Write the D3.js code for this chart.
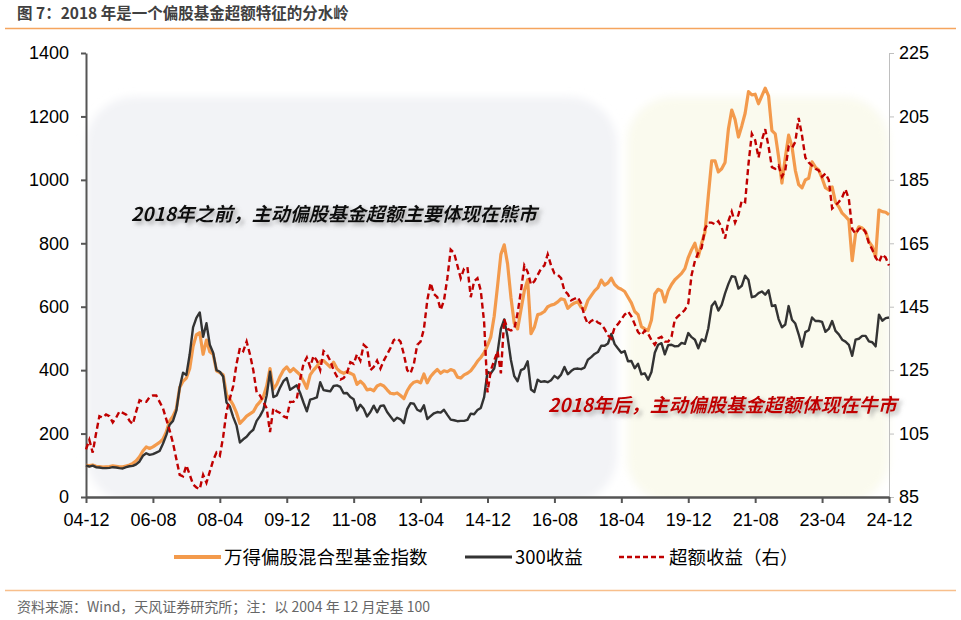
<!DOCTYPE html>
<html><head><meta charset="utf-8">
<script src="https://cdn.jsdelivr.net/npm/d3@7"></script>
<style>body{margin:0;background:#fff;} svg{display:block;}</style>
</head><body><svg id="c" width="961" height="620"></svg>
<script>
// ---- data (monthly, 2004-12 .. 2024-12) ----
const xTickLabels = ["04-12","06-08","08-04","09-12","11-08","13-04","14-12","16-08","18-04","19-12","21-08","23-04","24-12"];
const leftTicks = [0,200,400,600,800,1000,1200,1400];
const rightTicks = [85,105,125,145,165,185,205,225];
const seriesNames = ["万得偏股混合型基金指数","300收益","超额收益（右）"];

const fundIndex = [
100,99,101,97,96,94,95,96,98,97,95,95,
98,101,106,114,127,145,158,153,158,165,172,182,
205,240,255,278,345,365,375,405,475,512,518,450,
495,458,450,398,392,385,322,308,290,265,232,243,
255,262,269,288,300,316,350,405,340,355,380,400,
410,395,405,395,385,365,343,385,400,412,428,430,
420,410,425,405,395,390,395,390,385,355,365,355,
338,340,335,350,355,350,338,327,325,328,320,310,
335,352,362,365,360,388,360,380,392,402,390,398,
395,402,398,378,375,385,390,398,412,428,440,455,
478,505,570,665,765,795,735,630,548,530,590,650,
685,515,535,575,578,585,600,605,608,615,625,622,
595,605,612,616,598,590,620,635,650,660,684,668,
675,690,670,660,655,648,630,612,585,575,537,530,
525,558,640,655,650,615,650,670,685,695,705,720,
755,780,800,758,800,835,950,1060,1060,1025,1035,1055,
1160,1220,1190,1135,1170,1210,1278,1268,1270,1240,1265,1289,
1265,1155,1145,1073,990,1070,1141,1105,1030,985,975,1000,
1005,1057,1040,1031,1005,975,968,978,930,915,895,885,
873,745,830,852,848,837,805,790,758,905,900,898,
890];

const csi300 = [
100,96,99,94,93,91,91,92,94,93,91,90,
94,97,98,103,112,130,138,133,135,140,145,168,
195,228,240,272,345,392,385,450,535,565,582,505,
548,480,455,400,395,380,298,285,252,225,172,182,
190,203,212,240,255,275,320,395,315,320,345,365,
375,338,345,352,328,298,270,307,310,314,362,337,
335,333,350,352,347,327,328,315,308,273,291,278,
254,268,288,267,287,289,268,254,240,250,245,233,
277,296,294,275,270,289,246,255,264,268,266,275,
259,244,242,239,240,240,243,263,261,274,281,315,
395,390,405,455,530,560,505,432,381,365,400,405,
428,339,331,370,363,365,362,368,382,374,386,410,
387,397,404,405,403,408,433,441,451,457,477,477,
484,514,482,468,455,460,428,429,406,420,387,390,
370,394,455,480,485,450,479,480,475,476,486,483,
517,504,496,469,497,491,532,602,616,588,606,642,
672,696,694,657,666,698,684,630,633,643,648,638,
652,602,605,561,535,544,602,559,547,513,474,520,
526,566,555,555,552,521,530,555,524,513,496,490,
480,445,496,499,508,508,491,488,475,575,556,564,
566];

const excess = [
100,103,99,105,110.5,110,111,110.5,108.5,110,112,111.5,
111,109,108,112,115.5,115,115,116.5,117,117,115,113,
109.5,106,102,97,92,91.5,95,92,89,88,87.5,92,
89.5,93,96.5,99,98,104,112,116,120,127,132,131,
134,130,125,118,117,115,113,105.5,113,112,111.5,110.5,
110,115,115,116,122,127,129,126,129.5,128,125,131,
130,128,125,123,122,122.5,124,127.5,127,130,128,133,
132,125,126,128,125.5,128,130,132,134.5,135,134,130,
125,124,127,133,134,138,147,152.5,149,148,144,147,
154,163,162,158,154,157,157.5,148,153,154,150,140,
118,125,128,131,124,141,138,137.5,138,143,150,158,
156,152,153,155,157,158,161.5,158,155.5,155,154,150,
149,147,147.5,148,146,142,139.5,140.5,141,140,139.5,138,
136,135,138.5,139.5,141,142.5,143.5,142,139.5,137,136,137.5,
136.5,134.5,133,135,135.5,134,134,135.5,141,142,143,144,
146,155,159.5,162,163.5,169.5,171.5,171.5,171,172,170,166.5,
172,175,171.5,174,178.5,178,190,199.5,197.5,192,197.5,201,
195.5,189,188.5,189.5,186,188,195.5,195,197,204.5,199,192,
190.5,189.5,188.5,188,186,187,185,176,177,178,179.5,182,
179,169.5,168,169.5,170,168.5,165,163,160.5,159,161.5,160.5,
158];

// ---- drawing ----
const FONT = "'Liberation Sans','Noto Sans CJK SC',Arial,sans-serif";
const CJK = "'Noto Sans CJK SC','Liberation Sans',sans-serif";
const C_OR = "#f39a4c", C_BK = "#333333", C_RD = "#c00000";
const svg = d3.select("#c");
const L = 86, R = 889, T = 53, B = 497;

const x = d3.scaleLinear().domain([0, fundIndex.length - 1]).range([L, R]);
const yL = d3.scaleLinear().domain([0, 1400]).range([B, T]);
const yR = d3.scaleLinear().domain([85, 225]).range([B, T]);

const defs = svg.append("defs");
const blur = defs.append("filter").attr("id","soft").attr("x","-10%").attr("y","-10%").attr("width","120%").attr("height","120%");
blur.append("feGaussianBlur").attr("stdDeviation", 4);
const sh = defs.append("filter").attr("id","shadow").attr("x","-5%").attr("y","-30%").attr("width","115%").attr("height","180%");
sh.append("feDropShadow").attr("dx",3).attr("dy",3).attr("stdDeviation",2.2).attr("flood-color","#777").attr("flood-opacity",0.6);
defs.append("clipPath").attr("id","plotclip").append("rect").attr("x",0).attr("y",0).attr("width",961).attr("height",B);

// title
svg.append("text").attr("x",17).attr("y",19).attr("font-family",CJK).attr("font-weight","bold")
  .attr("font-size",15.5).attr("fill","#404040").text("图 7：2018 年是一个偏股基金超额特征的分水岭");
svg.append("line").attr("x1",5).attr("x2",956).attr("y1",28.5).attr("y2",28.5).attr("stroke","#f5a55e").attr("stroke-width",1.5);

// background regions
const bg = svg.append("g").attr("clip-path","url(#plotclip)");
bg.append("rect").attr("x",86).attr("y",97).attr("width",531).attr("height",406).attr("rx",48)
  .attr("fill","#f2f3f6").attr("filter","url(#soft)");
bg.append("rect").attr("x",627).attr("y",97).attr("width",262).attr("height",406).attr("rx",45)
  .attr("fill","#fafaee").attr("filter","url(#soft)");

// axes
const axL = svg.append("g").attr("transform",`translate(${L},0)`)
  .call(d3.axisLeft(yL).tickValues(leftTicks).tickFormat(d3.format("d")).tickSize(5).tickSizeOuter(0).tickPadding(12));
axL.select(".domain").attr("stroke","#555").attr("stroke-width",2);
axL.selectAll(".tick line").attr("stroke","#555").attr("stroke-width",2);
axL.selectAll("text").attr("font-family",FONT).attr("font-size",18).attr("fill","#000");

const axR = svg.append("g").attr("transform",`translate(${R},0)`)
  .call(d3.axisRight(yR).tickValues(rightTicks).tickFormat(d3.format("d")).tickSize(5).tickSizeOuter(0).tickPadding(5));
axR.select(".domain").attr("stroke","#bfbfbf").attr("stroke-width",1);
axR.selectAll(".tick line").attr("stroke","#bfbfbf");
axR.selectAll("text").attr("font-family",FONT).attr("font-size",18).attr("fill","#000");

const axB = svg.append("g").attr("transform",`translate(0,${B})`)
  .call(d3.axisBottom(x).tickValues(xTickLabels.map((d,i)=>i*20)).tickFormat((d,i)=>xTickLabels[i])
    .tickSize(6).tickSizeOuter(0).tickPadding(10));
axB.select(".domain").attr("stroke","#555").attr("stroke-width",2.5);
axB.selectAll(".tick line").attr("stroke","#555").attr("stroke-width",2);
axB.selectAll("text").attr("font-family",FONT).attr("font-size",18).attr("fill","#000");

// lines
const lineL = d3.line().x((d,i)=>x(i)).y(d=>yL(d));
const lineR = d3.line().x((d,i)=>x(i)).y(d=>yR(d));
svg.append("path").datum(fundIndex).attr("d",lineL).attr("fill","none").attr("stroke",C_OR)
  .attr("stroke-width",3.2).attr("stroke-linejoin","round");
svg.append("path").datum(csi300).attr("d",lineL).attr("fill","none").attr("stroke",C_BK)
  .attr("stroke-width",2.4).attr("stroke-linejoin","round");
svg.append("path").datum(excess).attr("d",lineR).attr("fill","none").attr("stroke",C_RD)
  .attr("stroke-width",2.4).attr("stroke-dasharray","6,3.5");

// annotations
svg.append("text").attr("x",131).attr("y",221).attr("font-family",CJK).attr("font-weight","bold")
  .attr("font-style","italic").attr("font-size",19).attr("fill","#111").attr("filter","url(#shadow)")
  .text("2018年之前，主动偏股基金超额主要体现在熊市");
svg.append("text").attr("x",548).attr("y",412).attr("font-family",CJK).attr("font-weight","bold")
  .attr("font-style","italic").attr("font-size",19).attr("fill",C_RD).attr("filter","url(#shadow)")
  .text("2018年后，主动偏股基金超额体现在牛市");

// legend
const lg = svg.append("g").attr("font-family",CJK).attr("font-size",18.5).attr("fill","#000");
const legendItems = [
  {name:seriesNames[0], x1:174, color:C_OR, w:4, dash:null},
  {name:seriesNames[1], x1:465, color:C_BK, w:3, dash:null},
  {name:seriesNames[2], x1:619, color:C_RD, w:2.5, dash:"5,3"}
];
legendItems.forEach(it=>{
  lg.append("line").attr("x1",it.x1).attr("x2",it.x1+47).attr("y1",557).attr("y2",557)
    .attr("stroke",it.color).attr("stroke-width",it.w).attr("stroke-dasharray",it.dash);
  lg.append("text").attr("x",it.x1+50).attr("y",564).text(it.name);
});

// footer
svg.append("line").attr("x1",5).attr("x2",956).attr("y1",590.5).attr("y2",590.5).attr("stroke","#f8bf8c").attr("stroke-width",1.5);
svg.append("text").attr("x",17).attr("y",612).attr("font-family",CJK).attr("font-size",14).attr("fill","#666")
  .text("资料来源：Wind，天风证券研究所；注：以 2004 年 12 月定基 100");
</script></body></html>
